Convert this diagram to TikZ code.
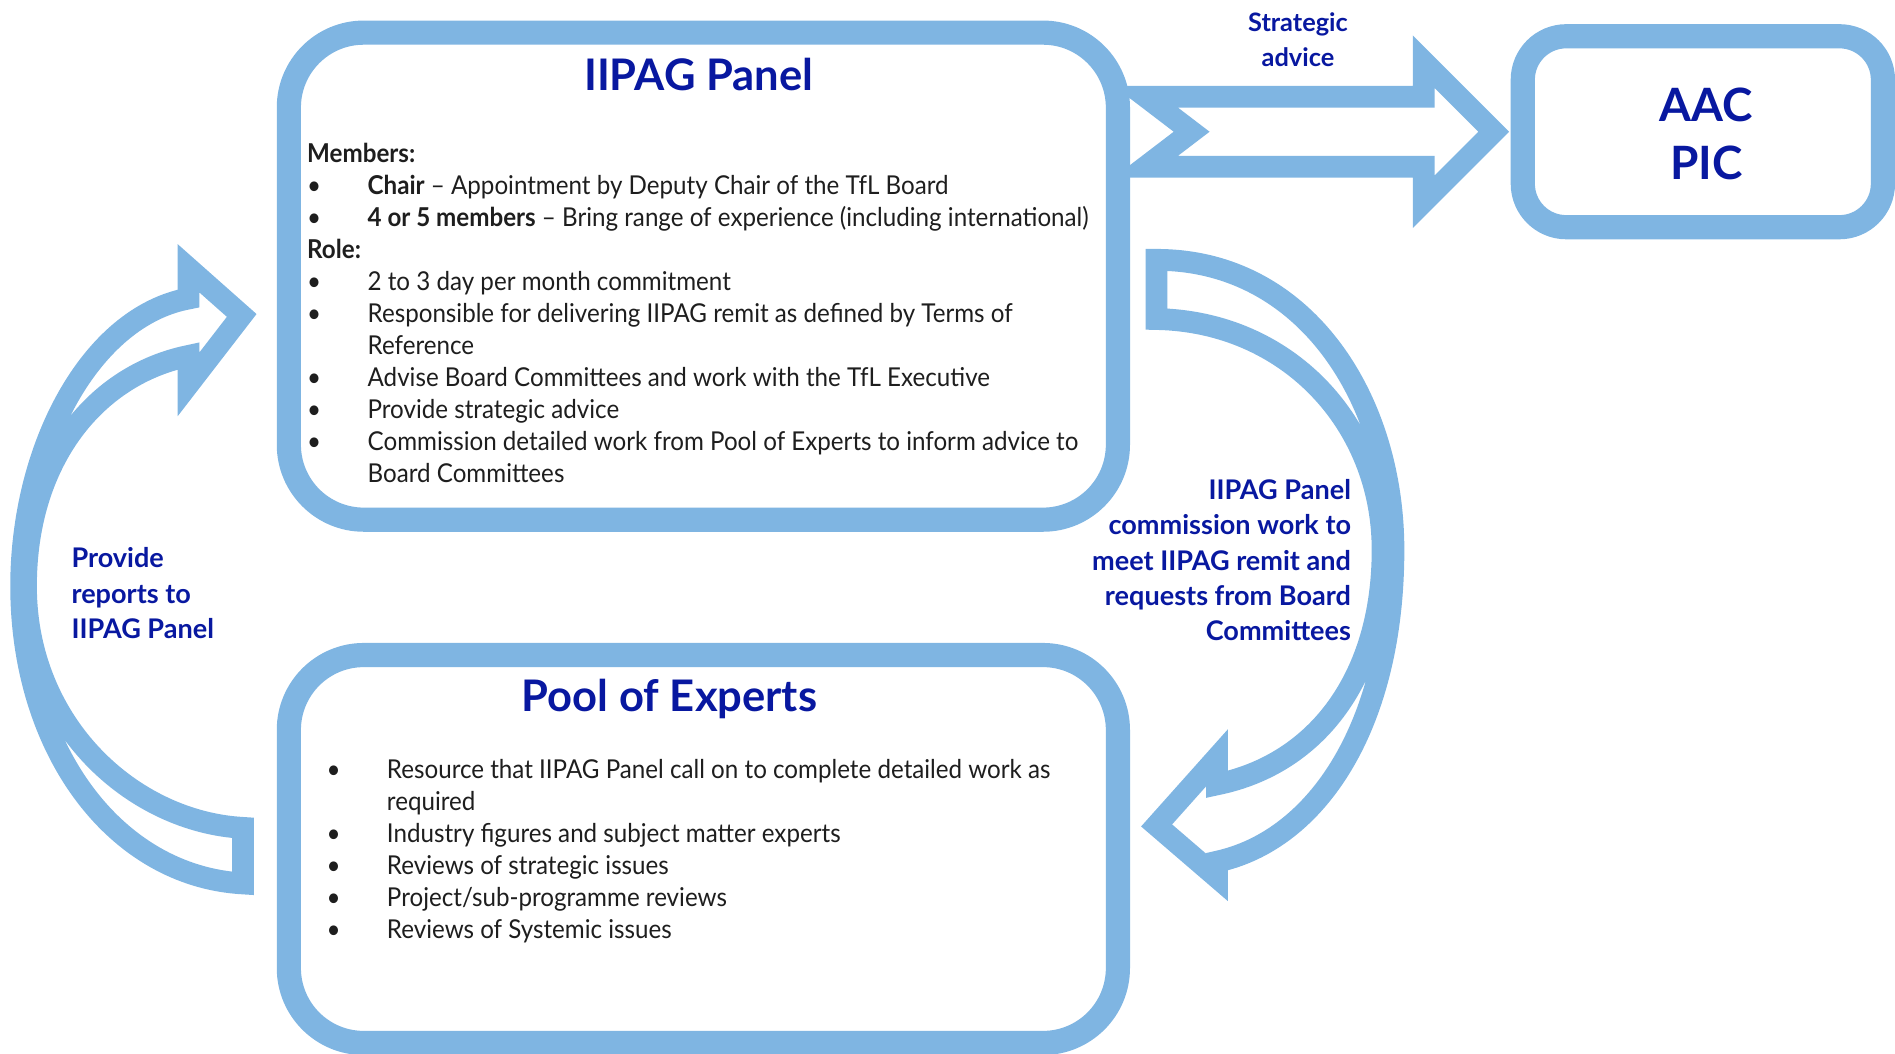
\documentclass[tikz,border=0pt]{standalone}
\usepackage{fontspec}
\setmainfont{Lato}
\newfontfamily\bodyfont{Lato}[FakeStretch=0.93,Ligatures=TeX]
\definecolor{ribbon}{RGB}{127,181,226}
\definecolor{ink}{RGB}{8,24,160}
\definecolor{bodytext}{RGB}{30,30,30}
% bullet and hanging indent for the lists
\newcommand{\bul}{\makebox[50pt][l]{\textbullet}}
\newcommand{\cont}{\hspace*{50pt}}
\begin{document}
\begin{tikzpicture}
    [x=1pt,y=-1pt,inner sep=0pt,
     box/.style={draw=ribbon,fill=white,line width=20pt,rounded corners=62pt},
     blockarrow/.style={draw=ribbon,fill=white,line width=18pt,line join=miter,miter limit=20},
     title/.style={text=ink,font=\fontsize{36}{40}\selectfont\bfseries},
     label/.style={text=ink,font=\fontsize{22.4}{29.3}\selectfont\bfseries},
     list/.style={text=bodytext,align=left,font=\bodyfont\fontsize{21.5}{26.5}\selectfont}]
    \useasboundingbox (0,0) rectangle (1568,872);
    % boxes
    \node (panel) at (582,228.5) [box,minimum width=686pt,minimum height=403pt] {};
    \node (pool) at (582,702.5) [box,minimum width=686pt,minimum height=321pt] {};
    \node (aac) at (1409,109) [box,rounded corners=36pt,minimum width=298pt,minimum height=158pt] {};
    % strategic advice arrow
    \draw [blockarrow] (948,80) -- (1178,80) -- (1178,51) -- (1236,109) -- (1178,167)
      -- (1178,138) -- (948,138) -- (986,109) -- cycle;
    % curved arrow, pool of experts up to the panel
    \draw [blockarrow] (201,685) .. controls (110,680) and (21.5,600) .. (21.5,485)
      .. controls (21.5,380) and (80,310) .. (156,294.5)
      -- (156,318) -- (200,261) -- (156,222) -- (156,247)
      .. controls (75,262) and (17.5,370) .. (17.5,485)
      .. controls (17.5,620) and (95,725) .. (201,731) -- cycle;
    % curved arrow, panel down to the pool of experts
    \draw [blockarrow] (957,264) .. controls (1065,266) and (1144,350) .. (1144,455)
      .. controls (1144,560) and (1090,632) .. (1007,649)
      -- (1007,627) -- (957,683) -- (1007,726) -- (1007,713)
      .. controls (1090,695) and (1153,600) .. (1153,455)
      .. controls (1153,330) and (1080,215) .. (957,215) -- cycle;
    % texts
    \node (paneltitle) at (578,62) [title] {IIPAG Panel};
    \node (pooltitle) at (554,578) [title] {Pool of Experts};
    \node (aactext) at (1412,111) [title,align=center,font=\fontsize{38}{48}\selectfont\bfseries] {AAC\\PIC};
    \node (advice) at (1074,32.5) [label,align=center,font=\fontsize{21}{29}\selectfont\bfseries] {Strategic\\advice};
    \node (reports) at (59,491) [label,anchor=west,align=left] {Provide\\reports to\\IIPAG Panel};
    \node (commission) at (1118,463.5) [label,anchor=east,align=right] {IIPAG Panel\\commission work to\\meet IIPAG remit and\\requests from Board\\Committees};
    \node (panellist) at (254,118) [list,anchor=north west] {%
      \textbf{Members:}\\
      \bul\textbf{Chair} -- Appointment by Deputy Chair of the TfL Board\\
      \bul\textbf{4 or 5 members} -- Bring range of experience (including international)\\
      \textbf{Role:}\\
      \bul 2 to 3 day per month commitment\\
      \bul Responsible for delivering IIPAG remit as defined by Terms of\\
      \cont Reference\\
      \bul Advise Board Committees and work with the TfL Executive\\
      \bul Provide strategic advice\\
      \bul Commission detailed work from Pool of Experts to inform advice to\\
      \cont Board Committees};
    \node (poollist) at (270,628) [list,anchor=north west] {%
      \bul Resource that IIPAG Panel call on to complete detailed work as\\
      \cont required\\
      \bul Industry figures and subject matter experts\\
      \bul Reviews of strategic issues\\
      \bul Project/sub-programme reviews\\
      \bul Reviews of Systemic issues};
\end{tikzpicture}
\end{document}
